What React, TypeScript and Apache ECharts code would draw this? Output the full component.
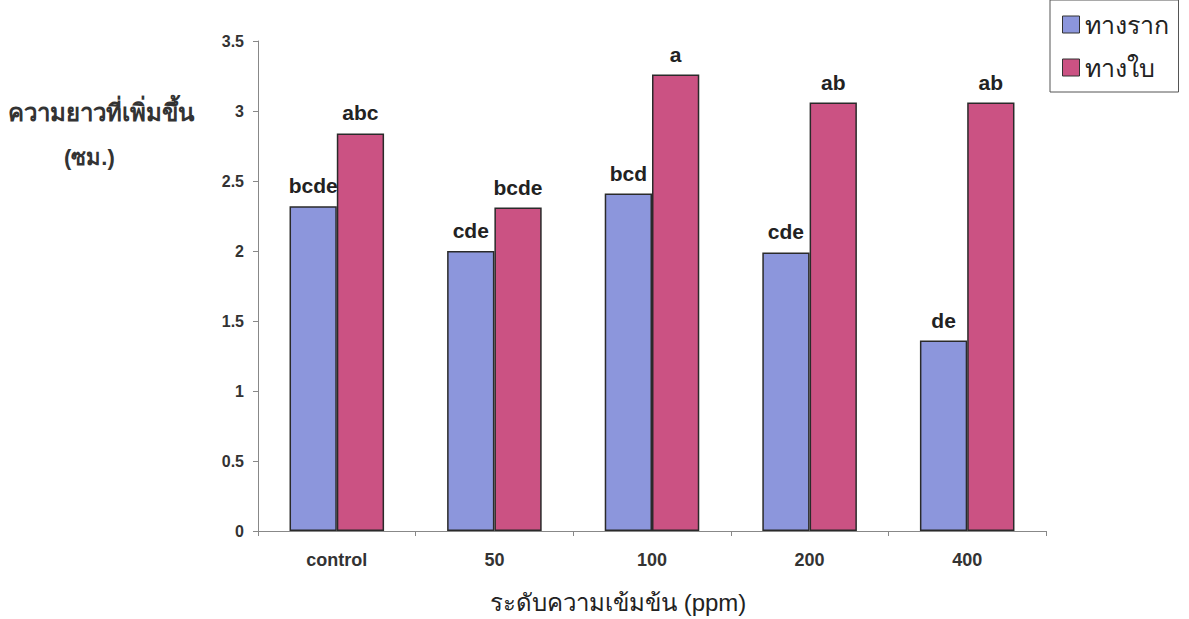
import React, { useEffect, useRef } from "react";
import * as echarts from "echarts";

const categories = ["control", "50", "100", "200", "400"];
const rootValues = [2.32, 2.0, 2.41, 1.99, 1.36];
const leafValues = [2.84, 2.31, 3.26, 3.06, 3.06];
const rootLetters = ["bcde", "cde", "bcd", "cde", "de"];
const leafLetters = ["abc", "bcde", "a", "ab", "ab"];
const seriesNames = ["ทางราก", "ทางใบ"];
const yAxisTitle = ["ความยาวที่เพิ่มขึ้น", "(ซม.)"];
const xAxisTitle = "ระดับความเข้มข้น (ppm)";

const FONT = "'Liberation Sans', Arial, 'Noto Sans', sans-serif";

export default function App() {
  const ref = useRef<HTMLDivElement>(null);
  useEffect(() => {
    if (!ref.current) return;
    const chart = echarts.init(ref.current, null, { renderer: "svg" });
    const labelStyle = (letters: string[]) => ({
      show: true,
      position: "top" as const,
      distance: 10,
      fontFamily: FONT,
      fontWeight: "bold" as const,
      fontSize: 21,
      color: "#222",
      formatter: (p: any) => letters[p.dataIndex],
    });
    chart.setOption({
      animation: false,
      backgroundColor: "#ffffff",
      textStyle: { fontFamily: FONT },
      grid: { left: 258, right: 143, top: 41, bottom: 88, containLabel: false },
      legend: {
        orient: "vertical",
        left: 1050,
        top: 0,
        data: seriesNames,
        borderColor: "#555",
        borderWidth: 1,
        padding: [12, 10, 12, 12],
        itemWidth: 17,
        itemHeight: 17,
        itemGap: 18,
        icon: "rect",
        itemStyle: { borderColor: "#333", borderWidth: 1 },
        textStyle: { fontFamily: FONT, fontSize: 25, color: "#222" },
      },
      xAxis: {
        type: "category",
        data: categories,
        boundaryGap: true,
        axisLine: { lineStyle: { color: "#888", width: 1 } },
        axisTick: { show: true, alignWithLabel: false, length: 5, lineStyle: { color: "#888" } },
        axisLabel: { fontFamily: FONT, fontWeight: "bold", fontSize: 18, color: "#333", margin: 20 },
      },
      yAxis: {
        type: "value",
        min: 0,
        max: 3.5,
        interval: 0.5,
        axisLine: { show: true, lineStyle: { color: "#888", width: 1 } },
        axisTick: { show: true, length: 5, lineStyle: { color: "#888" } },
        splitLine: { show: false },
        axisLabel: { fontFamily: FONT, fontWeight: "bold", fontSize: 16, color: "#333", margin: 14 },
      },
      graphic: [
        {
          type: "text",
          left: 8,
          top: 100,
          style: { text: yAxisTitle[0], fontFamily: FONT, fontWeight: "bold", fontSize: 24, fill: "#333" },
        },
        {
          type: "text",
          left: 64,
          top: 146,
          style: { text: yAxisTitle[1], fontFamily: FONT, fontWeight: "bold", fontSize: 22, fill: "#333" },
        },
        {
          type: "text",
          left: 490,
          top: 590,
          style: { text: xAxisTitle, fontFamily: FONT, fontSize: 24, fill: "#222" },
        },
      ],
      series: [
        {
          name: seriesNames[0],
          type: "bar",
          data: rootValues,
          barGap: "0%",
          barCategoryGap: "40%",
          itemStyle: { color: "#8c96dc", borderColor: "#2a2a2a", borderWidth: 1.5 },
          label: labelStyle(rootLetters),
        },
        {
          name: seriesNames[1],
          type: "bar",
          data: leafValues,
          barGap: "0%",
          barCategoryGap: "40%",
          itemStyle: { color: "#cb5283", borderColor: "#2a2a2a", borderWidth: 1.5 },
          label: labelStyle(leafLetters),
        },
      ],
    });
    return () => chart.dispose();
  }, []);
  return (
    <div
      ref={ref}
      style={{ position: "fixed", left: 0, top: 0, width: 1189, height: 619 }}
    />
  );
}
